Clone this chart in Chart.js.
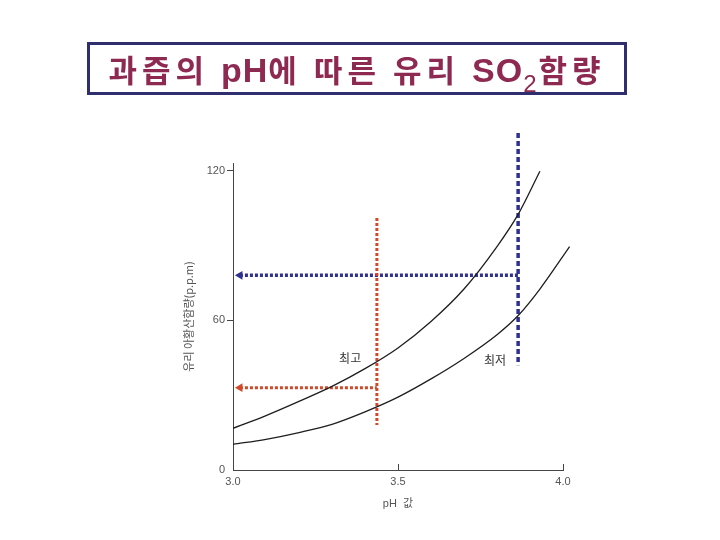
<!DOCTYPE html>
<html>
<head>
<meta charset="utf-8">
<script src="https://cdn.jsdelivr.net/npm/chart.js@4.4.1/dist/chart.umd.min.js"></script>
<style>
  body { margin: 0; background: #fff; }
  #wrap { position: relative; width: 720px; height: 540px; }
  #title {
    position: absolute; left: 87px; top: 42px; width: 534px; height: 47px;
    border: 3px solid #2f2f6f; background: #fff;
    font-family: "Noto Sans CJK KR", sans-serif; font-weight: bold;
    font-size: 31px; line-height: 47px; color: #8e2a52; text-align: center;
    letter-spacing: 5px; white-space: nowrap;
  }
  #title .lat { font-family: "Liberation Sans", sans-serif; font-size: 34px; letter-spacing: 1px; }
  #title sub { font-family: "Liberation Sans", sans-serif; font-size: 24px; vertical-align: -10px; line-height: 0; font-weight: normal; letter-spacing: 2px; }
  canvas { position: absolute; left: 0; top: 0; }
</style>
</head>
<body>
<div id="wrap">
  <canvas id="myChart" width="720" height="540"></canvas>
  <div id="title">과즙의 <span class="lat">pH</span>에 따른 유리 <span class="lat">SO</span><sub>2</sub>함량</div>
</div>
<script>
// tick labels
const xTicks = [3.0, 3.5, 4.0];
const yTicks = [0, 60, 120];

// 최고 curve
const phHigh = [3.0, 3.1, 3.2, 3.3, 3.4, 3.5, 3.6, 3.7, 3.8, 3.864, 3.93];
const so2High = [16.7, 21.8, 27.5, 33.5, 40.6, 48.9, 59.5, 72.5, 89.5, 102.4, 119.7];

// 최저 curve
const phLow = [3.0, 3.1, 3.2, 3.3, 3.4, 3.5, 3.6, 3.7, 3.8, 3.865, 3.93, 4.02];
const so2Low = [10.3, 12.3, 15, 18.3, 23.3, 29.2, 36.5, 44.7, 54.2, 62, 72.5, 89.5];

// guide lines (red = 최고 reading, blue = 최저 reading)
const redPh = 3.436;
const redLevel = 33;
const redTop = 101;
const redBottom = 18;
const bluePh = 3.864;
const blueLevel = 78;
const blueTop = 135;
const blueBottom = 42;
const arrowPh = 3.021;

const curveLabels = [
  { text: "최고", x: 3.355, y: 44.5 },
  { text: "최저", x: 3.794, y: 44 },
];

const toPoints = (xs, ys) => xs.map((x, i) => ({ x: x, y: ys[i] }));

const labelPlugin = {
  id: "labelPlugin",
  afterDraw(chart) {
    const ctx = chart.ctx;
    const xs = chart.scales.x;
    const ys = chart.scales.y;
    ctx.save();
    // inner ticks on x axis
    ctx.strokeStyle = "#444";
    ctx.lineWidth = 1;
    xTicks.slice(1).forEach((v) => {
      const px = Math.round(xs.getPixelForValue(v)) + 0.5;
      ctx.beginPath();
      ctx.moveTo(px, ys.bottom);
      ctx.lineTo(px, ys.bottom - 6);
      ctx.stroke();
    });
    ctx.fillStyle = "#333";
    ctx.font = "12px 'Noto Sans CJK KR', sans-serif";
    ctx.textAlign = "center";
    ctx.textBaseline = "middle";
    curveLabels.forEach((l) => {
      ctx.fillText(l.text, xs.getPixelForValue(l.x), ys.getPixelForValue(l.y));
    });
    ctx.restore();
  },
};

const ctx1 = document.getElementById("myChart").getContext("2d");
const myChart = new Chart(ctx1, {
  type: "line",
  data: {
    datasets: [
      {
        label: "최고",
        data: toPoints(phHigh, so2High),
        borderColor: "#1e1e1e",
        borderWidth: 1.3,
        pointRadius: 0,
        cubicInterpolationMode: "monotone",
      },
      {
        label: "최저",
        data: toPoints(phLow, so2Low),
        borderColor: "#1e1e1e",
        borderWidth: 1.3,
        pointRadius: 0,
        cubicInterpolationMode: "monotone",
        clip: false,
      },
      {
        label: "red vertical",
        data: [{ x: redPh, y: redTop }, { x: redPh, y: redBottom }],
        borderColor: "#d04a2a",
        borderWidth: 3,
        borderDash: [3, 2],
        pointRadius: 0,
      },
      {
        label: "red arrow",
        data: [{ x: arrowPh, y: redLevel }, { x: redPh, y: redLevel }],
        borderColor: "#d04a2a",
        backgroundColor: "#d04a2a",
        borderWidth: 3,
        borderDash: [3, 2],
        pointStyle: "triangle",
        rotation: -90,
        pointRadius: [5, 0],
        pointBorderWidth: 0,
      },
      {
        label: "blue vertical",
        data: [{ x: bluePh, y: blueTop }, { x: bluePh, y: blueBottom }],
        borderColor: "#2f3190",
        borderWidth: 3.5,
        borderDash: [5, 3],
        pointRadius: 0,
        clip: false,
      },
      {
        label: "blue arrow",
        data: [{ x: arrowPh, y: blueLevel }, { x: bluePh, y: blueLevel }],
        borderColor: "#2f3190",
        backgroundColor: "#2f3190",
        borderWidth: 3.5,
        borderDash: [3, 2],
        pointStyle: "triangle",
        rotation: -90,
        pointRadius: [5, 0],
        pointBorderWidth: 0,
      },
    ],
  },
  options: {
    responsive: false,
    animation: false,
    layout: { padding: { left: 178, right: 157, top: 163, bottom: 25 } },
    plugins: { legend: { display: false }, tooltip: { enabled: false } },
    scales: {
      x: {
        type: "linear",
        min: 3.0,
        max: 4.0,
        afterBuildTicks: (s) => { s.ticks = xTicks.map((v) => ({ value: v })); },
        afterFit: (s) => { s.height = 45; },
        ticks: {
          callback: (v) => v.toFixed(1),
          color: "#555",
          padding: 5,
          maxRotation: 0,
          font: { family: "'Liberation Sans', sans-serif", size: 11 },
        },
        grid: { drawOnChartArea: false, drawTicks: false },
        border: { color: "#444", width: 1 },
        title: {
          display: true,
          text: "pH  값",
          color: "#555",
          font: { family: "'Liberation Sans', 'Noto Sans CJK KR', sans-serif", size: 11 },
        },
      },
      y: {
        min: 0,
        max: 123,
        afterBuildTicks: (s) => { s.ticks = yTicks.map((v) => ({ value: v })); },
        afterFit: (s) => { s.width = 55; },
        ticks: {
          color: "#555",
          padding: 2,
          font: { family: "'Liberation Sans', sans-serif", size: 11 },
        },
        grid: {
          drawOnChartArea: false,
          tickLength: 6,
          tickColor: (c) => (c.tick && c.tick.value === 0 ? "rgba(0,0,0,0)" : "#444"),
        },
        border: { color: "#444", width: 1 },
        title: {
          display: true,
          text: "유리 아황산함량(p.p.m)",
          color: "#555",
          font: { family: "'Noto Sans CJK KR', sans-serif", size: 11 },
        },
      },
    },
  },
  plugins: [labelPlugin],
});
</script>
</body>
</html>
